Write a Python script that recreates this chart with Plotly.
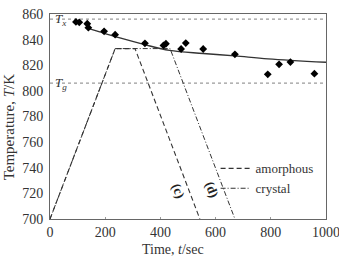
import plotly.graph_objects as go

# measured points
t_pts = [94, 106, 135, 139, 196, 236, 344, 411, 420, 475, 492, 555, 670, 789, 830, 871, 958]
T_pts = [853.8, 853.5, 852.4, 849.3, 846.5, 843.9, 837.1, 835.5, 836.8, 832.7, 837.3, 832.7, 828.5, 812.9, 820.7, 822.5, 813.4]

# fitted curve
t_fit = [135, 180, 250, 340, 433, 555, 670, 790, 1000]
T_fit = [849.0, 846.0, 841.5, 836.3, 831.6, 829.2, 827.3, 825.0, 822.3]

# heat treatment profiles
t_amor = [0, 236, 308, 543]
T_amor = [700, 833, 833, 700]
t_cry = [0, 236, 435, 670]
T_cry = [700, 833, 833, 700]

Tx = 856
Tg = 806

x_ticks = [0, 200, 400, 600, 800, 1000]
y_ticks = [700, 720, 740, 760, 780, 800, 820, 840, 860]

FONT = "Liberation Serif"
fig = go.Figure()

fig.add_trace(go.Scatter(x=[0, 1000], y=[Tx, Tx], mode="lines", showlegend=False,
                         line=dict(color="#9a9a9a", width=1.2, dash="dot")))
fig.add_trace(go.Scatter(x=[0, 1000], y=[Tg, Tg], mode="lines", showlegend=False,
                         line=dict(color="#9a9a9a", width=1.2, dash="dot")))

fig.add_trace(go.Scatter(x=t_cry, y=T_cry, mode="lines", name="crystal",
                         line=dict(color="#333333", width=1, dash="5px,2px,1px,2px")))
fig.add_trace(go.Scatter(x=t_amor, y=T_amor, mode="lines", name="amorphous",
                         line=dict(color="#333333", width=1.1, dash="5px,3px")))

fig.add_trace(go.Scatter(x=t_fit, y=T_fit, mode="lines", showlegend=False,
                         line=dict(color="#333333", width=1.4, shape="spline")))
fig.add_trace(go.Scatter(x=t_pts, y=T_pts, mode="markers", showlegend=False,
                         marker=dict(symbol="diamond", size=6, color="black")))

fig.add_annotation(x=10, y=Tx, xref="x", yref="y", xanchor="left", yanchor="middle",
                   text="<i>T</i><sub><i>x</i></sub>", showarrow=False,
                   font=dict(family=FONT, size=13, color="#333"))
fig.add_annotation(x=10, y=Tg, xref="x", yref="y", xanchor="left", yanchor="middle",
                   text="<i>T</i><sub><i>g</i></sub>", showarrow=False,
                   font=dict(family=FONT, size=13, color="#333"))

fig.add_annotation(x=464, y=722, xref="x", yref="y", text="<b>(c)</b>", showarrow=False,
                   textangle=69, font=dict(family=FONT, size=13, color="#222"))
fig.add_annotation(x=587, y=723, xref="x", yref="y", text="<b>(d)</b>", showarrow=False,
                   textangle=69, font=dict(family=FONT, size=13, color="#222"))

# axis titles
fig.add_annotation(x=-0.15, y=0.45, xref="paper", yref="paper", xanchor="center", yanchor="middle",
                   text="Temperature, <i>T</i>/K", textangle=-90, showarrow=False,
                   font=dict(family=FONT, size=15, color="#333"))
fig.add_annotation(x=0.445, y=-0.148, xref="paper", yref="paper", xanchor="center", yanchor="middle",
                   text="Time, <i>t</i>/sec", showarrow=False,
                   font=dict(family=FONT, size=14, color="#333"))

fig.update_layout(
    width=339, height=257,
    margin=dict(l=50, r=13, t=14, b=38, autoexpand=False),
    paper_bgcolor="white", plot_bgcolor="white",
    font=dict(family=FONT, size=14, color="#333"),
    legend=dict(x=0.60, y=0.32, xanchor="left", yanchor="top", bgcolor="rgba(0,0,0,0)",
                traceorder="reversed", font=dict(family=FONT, size=13, color="#333"),
                itemwidth=30, tracegroupgap=0),
    xaxis=dict(range=[0, 1000], tickvals=x_ticks, ticktext=[str(v) for v in x_ticks],
               showgrid=False, zeroline=False, showline=True, linecolor="#666", linewidth=1,
               mirror=True, ticks="inside", ticklen=2, tickcolor="#999",
               ticklabeloverflow="allow", automargin=False, ticklabelstandoff=0,
               tickfont=dict(family=FONT, size=14, color="#333")),
    yaxis=dict(range=[700, 860], tickvals=y_ticks, ticktext=[str(v) for v in y_ticks],
               showgrid=False, zeroline=False, showline=True, linecolor="#666", linewidth=1,
               mirror=True, ticks="", ticklabelstandoff=3, automargin=False,
               tickfont=dict(family=FONT, size=14, color="#333")),
)

fig.write_html("out.html")
